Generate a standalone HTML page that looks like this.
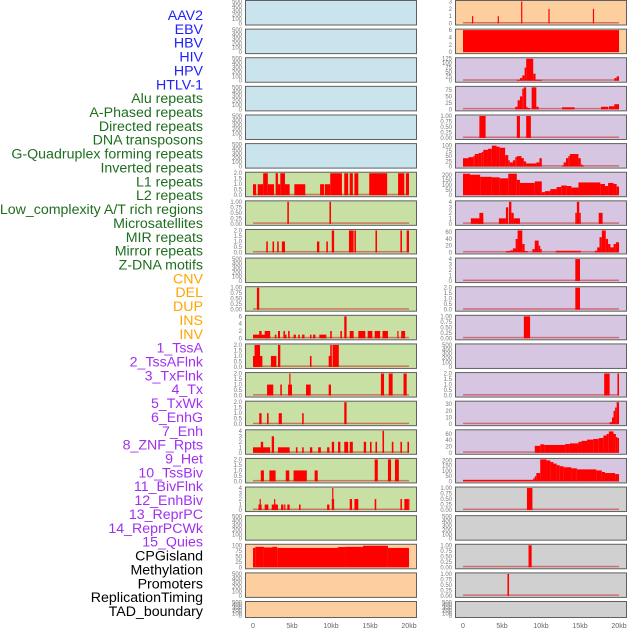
<!DOCTYPE html>
<html><head><meta charset="utf-8"><style>
body{margin:0;background:#fff;}
svg{display:block;font-family:"Liberation Sans",sans-serif;}
</style></head><body>
<svg id="chart" width="630" height="630" viewBox="0 0 630 630"></svg>
<script>
const labelNames=["AAV2","EBV","HBV","HIV","HPV","HTLV-1","Alu repeats","A-Phased repeats","Directed repeats","DNA transposons","G-Quadruplex forming repeats","Inverted repeats","L1 repeats","L2 repeats","Low_complexity A/T rich regions","Microsatellites","MIR repeats","Mirror repeats","Z-DNA motifs","CNV","DEL","DUP","INS","INV","1_TssA","2_TssAFlnk","3_TxFlnk","4_Tx","5_TxWk","6_EnhG","7_Enh","8_ZNF_Rpts","9_Het","10_TssBiv","11_BivFlnk","12_EnhBiv","13_ReprPC","14_ReprPCWk","15_Quies","CPGisland","Methylation","Promoters","ReplicationTiming","TAD_boundary"];
const labelColors=["#2020ff","#2020ff","#2020ff","#2020ff","#2020ff","#2020ff","#1f6e1f","#1f6e1f","#1f6e1f","#1f6e1f","#1f6e1f","#1f6e1f","#1f6e1f","#1f6e1f","#1f6e1f","#1f6e1f","#1f6e1f","#1f6e1f","#1f6e1f","#ffa500","#ffa500","#ffa500","#ffa500","#ffa500","#a030f0","#a030f0","#a030f0","#a030f0","#a030f0","#a030f0","#a030f0","#a030f0","#a030f0","#a030f0","#a030f0","#a030f0","#a030f0","#a030f0","#a030f0","#000","#000","#000","#000","#000"];
const xTicks=[0,5,10,15,20];
const xTickLabels=["0","5kb","10kb","15kb","20kb"];
const leftBg=["b","b","b","b","b","b","g","g","g","g","g","g","g","g","g","g","g","g","g","o","o","o"];
const rightBg=["o","o","p","p","p","p","p","p","p","p","p","p","p","p","p","p","p","y","y","y","y","y"];
const leftMax=[500,500,500,500,500,500,2,1,2,500,1,6,2,2,2,4,2,4,500,100,500,500];
const rightMax=[3,6,125,85,1,105,215,4,65,4,2,1,500,2,33,70,210,1,500,1,1,500];
const leftTicks=[[0,100,200,300,400,500],[0,100,200,300,400,500],[0,100,200,300,400,500],[0,100,200,300,400,500],[0,100,200,300,400,500],[0,100,200,300,400,500],[0,0.5,1,1.5,2],[0,0.25,0.5,0.75,1],[0,0.5,1,1.5,2],[0,100,200,300,400,500],[0,0.25,0.5,0.75,1],[0,2,4,6],[0,0.5,1,1.5,2],[0,0.5,1,1.5,2],[0,0.5,1,1.5,2],[0,1,2,3,4],[0,0.5,1,1.5,2],[0,1,2,3,4],[0,100,200,300,400,500],[0,25,50,75,100],[0,100,200,300,400,500],[0,100,200,300,400,500]];
const rightTicks=[[0,1,2,3],[0,2,4,6],[0,25,50,75,100,125],[0,25,50,75],[0,0.25,0.5,0.75,1],[0,25,50,75,100],[0,50,100,150,200],[0,1,2,3,4],[0,20,40,60],[0,1,2,3,4],[0,0.5,1,1.5,2],[0,0.25,0.5,0.75,1],[0,100,200,300,400,500],[0,0.5,1,1.5,2],[0,10,20,30],[0,20,40,60],[0,50,100,150,200],[0,0.25,0.5,0.75,1],[0,100,200,300,400,500],[0,0.25,0.5,0.75,1],[0,0.25,0.5,0.75,1],[0,100,200,300,400,500]];
const leftBars=[[],[],[],[],[],[],
[[0,0.4,1],[0.6,1.3,1],[1.3,1.9,2],[1.9,2.7,1],[2.9,3.2,2],[3.2,3.5,1],[3.5,4.1,2],[4.1,4.7,1],[5.3,6.7,1],[8.6,9.1,1],[9.2,9.9,1],[9.9,11.4,2],[11.7,12.2,2],[12.4,12.8,2],[13.0,13.5,2],[14.9,17.2,2],[18.6,19.4,2],[19.6,20,2]],
[[4.4,4.6,1],[9.8,10.0,1]],
[[1.7,1.9,1],[2.5,2.7,1],[3.1,3.3,1],[3.7,4.1,1],[8.2,8.5,1],[9.4,9.6,1],[10.1,10.4,2],[12.3,12.9,2],[13.0,13.2,2],[15.7,15.9,2],[18.9,19.1,2],[19.7,20,2]],
[],
[[0.5,0.8,1]],
[[0,2.2,1],[0.8,1.1,2],[1.5,2.2,2],[2.8,3.0,1],[3.2,3.46,2],[3.9,4.1,2],[4.1,4.3,1],[4.5,4.7,2],[5.2,5.5,1],[5.8,6.0,1],[6.3,6.6,1],[7.3,7.5,1],[7.7,8.0,1],[8.5,9.4,1],[9.9,10.1,2],[11.2,11.4,2],[11.7,12.0,6],[12.4,12.9,2],[13.5,14.4,2],[14.7,15.3,2],[15.6,16.3,2],[16.6,17.3,2],[18.5,18.6,2],[19.0,19.5,2]],
[[0,1.2,1],[0.2,0.9,2],[2.3,3.0,1],[3.2,3.5,2],[7.3,7.5,1],[9.7,10.1,1],[9.9,10.1,2],[10.2,11.0,2]],
[[1.8,2.6,1],[3.5,3.7,1],[4.5,5.0,1],[4.65,4.8,2],[6.8,7.4,1],[9.7,10.0,1],[16.4,16.8,2],[17.4,17.9,2],[19.3,19.7,2]],
[[0.8,1.1,1],[1.8,2.0,1],[3.3,3.7,1],[6.3,6.5,1],[11.7,12.0,2]],
[[0,2.2,1],[1.0,1.3,2],[2.4,2.7,3],[3.2,4.7,1],[5.5,5.7,1],[6.3,6.5,1],[7.3,7.6,1],[8.35,8.7,1],[9.5,9.8,1],[10.1,10.4,2],[10.9,11.2,2],[11.7,12.2,2],[12.4,12.8,2],[14.2,14.5,2],[15.0,15.2,2],[15.7,15.9,2],[16.6,16.8,4],[17.8,18.0,2],[18.9,19.1,2],[19.8,20,2]],
[[1.0,1.4,1],[2.1,2.9,1],[4.2,4.65,1],[5.2,6.9,1],[7.9,8.3,1],[15.6,16.0,2],[17.3,17.7,2],[18.2,18.7,2]],
[[0.7,1.1,1],[0.85,0.95,2],[1.5,1.97,1],[2.4,3.2,1],[2.7,2.85,2],[3.6,3.9,1],[4.0,4.1,1],[4.4,4.7,1],[5.9,6.1,1],[9.5,9.8,1],[10.1,10.4,2],[10.15,10.3,4],[12.4,12.7,2],[13.0,13.5,2],[15.6,15.8,2],[18.9,19.1,2],[19.4,19.9,2],[19.9,20,2]],
[],
[[0,0.3,88],[0.3,1.4,93],[1.4,2.5,90],[2.5,3.1,93],[3.1,10.9,88],[10.9,11.8,92],[11.8,14.1,93],[14.1,17.3,98],[17.3,20,88]],
[],[]];
const rightBars=[
[[1.15,1.3,1],[4.45,4.6,1],[7.45,7.6,3],[10.95,11.1,2],[16.65,16.8,2]],
[[0,20,6]],
[[6.9,7.3,5],[7.3,7.6,15],[7.6,7.9,30],[7.9,8.1,75],[8.1,9.0,125],[9.0,9.3,40],[9.3,10.1,5],[19.4,19.7,15],[19.7,20,25]],
[[6.7,7.0,10],[7.0,7.3,35],[7.3,7.6,50],[7.6,7.8,80],[7.8,8.1,85],[8.1,8.2,10],[8.2,8.6,5],[8.8,9.4,85],[9.4,9.7,10],[12.7,14.3,8],[17.7,18.6,10],[18.7,19.4,12],[19.4,20,20]],
[[2.1,2.9,1],[6.9,7.3,1],[8.1,8.7,1]],
[[0,0.7,40],[0.7,1.3,45],[1.3,1.5,50],[1.5,2.0,60],[2.0,2.4,65],[2.4,2.6,70],[2.6,3.2,80],[3.2,3.7,85],[3.7,4.3,100],[4.3,4.7,95],[4.7,5.4,90],[5.4,5.8,55],[5.8,6.0,30],[6.0,6.4,20],[6.4,6.7,30],[6.7,6.9,45],[6.9,7.5,50],[7.5,7.8,40],[7.8,8.1,25],[8.1,9.4,15],[9.4,9.8,20],[9.8,10.1,40],[12.7,12.9,5],[12.9,13.2,20],[13.2,13.5,40],[13.5,13.7,50],[13.7,14.8,60],[14.8,15.1,40],[15.1,15.3,10],[15.3,15.5,5]],
[[0,0.9,210],[0.9,2.2,200],[2.2,3.7,180],[3.7,4.7,175],[4.7,5.8,165],[5.8,6.9,210],[6.9,7.3,150],[7.3,9.2,120],[9.2,10.1,135],[10.1,10.5,30],[10.5,11.2,40],[11.2,12.0,60],[12.0,12.6,80],[12.6,13.3,95],[13.3,13.9,90],[13.9,14.8,75],[14.8,17.6,125],[17.6,18.2,110],[18.2,18.6,90],[18.6,19.3,120],[19.3,19.7,110],[19.7,20,85]],
[[1.0,2.6,1],[2.1,2.6,2],[4.6,5.5,1],[5.5,5.8,3],[5.9,6.2,4],[6.2,6.5,2],[6.5,7.3,1],[14.4,14.6,2],[14.6,14.9,4],[14.9,15.1,2],[17.4,17.9,2]],
[[5.5,6.0,4],[6.0,6.4,6],[6.4,6.75,12],[6.75,7.0,40],[7.0,7.6,65],[7.6,7.9,25],[7.9,8.3,4],[8.9,9.2,10],[9.2,9.7,35],[9.7,9.9,20],[9.9,10.1,10],[11.9,15.1,5],[16.9,17.2,5],[17.2,17.5,15],[17.5,17.8,45],[17.8,18.3,65],[18.3,18.6,40],[18.6,18.9,25],[18.9,19.3,15],[19.3,19.6,25],[19.6,20,30]],
[[14.4,15.0,4]],
[[14.4,15.0,2]],
[[7.8,8.6,1]],
[],
[[18.1,18.8,2],[19.8,20,2]],
[[18.8,19.1,3],[19.1,19.3,10],[19.3,19.5,20],[19.5,19.7,25],[19.7,20,33]],
[[9.2,9.9,22],[9.9,10.4,27],[10.4,13.1,25],[13.1,13.7,28],[13.7,14.8,30],[14.8,15.2,35],[15.2,15.9,38],[15.9,16.7,42],[16.7,17.4,44],[17.4,18.0,47],[18.0,18.4,55],[18.4,18.7,60],[18.7,19.3,68],[19.3,19.6,60],[19.6,19.8,50],[19.8,20,47]],
[[0,9.0,15],[9.0,9.2,30],[9.2,9.4,50],[9.4,9.9,80],[9.9,10.7,210],[10.7,11.2,200],[11.2,11.6,185],[11.6,12.0,170],[12.0,12.4,155],[12.4,12.9,145],[12.9,13.9,135],[13.9,14.6,125],[14.6,17.1,115],[17.1,17.8,105],[17.8,18.2,90],[18.2,19.5,80],[19.5,20,70]],
[[8.2,8.9,1]],
[],
[[8.4,8.8,1]],
[[5.7,5.9,1]],
[]];

const NS="http://www.w3.org/2000/svg";
const svg=document.getElementById('chart');
function mk(tag,attrs,parent){const e=document.createElementNS(NS,tag);for(const k in attrs)e.setAttribute(k,attrs[k]);(parent||svg).appendChild(e);return e;}
const bgColors={b:"#c9e4ec",g:"#c8e0a4",o:"#fdcf9e",p:"#d6c6e2",y:"#d0d0d0"};
const rowPitch=28.62;
function rowTop(i){return i*rowPitch+0.5;}
function rowH(i){return i===21?16:24.5;}

labelNames.forEach((n,i)=>{
  const t=mk('text',{x:203,y:15+i*13.86+5,'text-anchor':'end','font-size':'14.2',fill:labelColors[i]});
  t.textContent=n;
  
  
});

function drawColumn(side){
  const frameX= side==='L'?245:455, frameW=171;
  const x0= side==='L'?253:463;
  const xs=kb=>x0+kb*7.8;
  const bgs= side==='L'?leftBg:rightBg, maxes= side==='L'?leftMax:rightMax;
  const ticks= side==='L'?leftTicks:rightTicks, bars= side==='L'?leftBars:rightBars;
  for(let i=0;i<22;i++){
    const top=rowTop(i), h=rowH(i);
    const g=mk('g',{});
    
    
    const r=mk('rect',{x:frameX+0.5,y:top,width:frameW,height:h,fill:bgColors[bgs[i]],stroke:'#606060','stroke-width':1},g);
    
    
    const yb=top+h-1.5, yt=top+1;
    const ys=v=>yb-(v/maxes[i])*(yb-yt);
    const quarter=ticks[i].some(v=>(v*100)%50!==0);
    const half=ticks[i].some(v=>v%1!==0);
    ticks[i].forEach(tv=>{
      const t=mk('text',{x:frameX-3,y:ys(tv)+2,'text-anchor':'end','font-size':'6',fill:'#777'},g);
      t.textContent= quarter? tv.toFixed(2) : (half? tv.toFixed(1) : String(tv));
      
      
    });
    if(bars[i].length){
      const bl=mk('rect',{x:xs(0),y:yb-1.5,width:xs(20)-xs(0),height:1.5,fill:'#c83030',opacity:0.6},g);
      
      
    }
    bars[i].forEach(b=>{
      const w=Math.max(xs(b[1])-xs(b[0]),1.2);
      const y=ys(b[2]);
      const br=mk('rect',{x:xs(b[0]),y:y,width:w,height:yb-y,fill:'#ff0000'},g);
      
      
    });
  }
  xTicks.forEach((k,j)=>{
    const t=mk('text',{x:xs(k),y:628,'text-anchor':'middle','font-size':'7',fill:'#666'});
    t.textContent=xTickLabels[j];
    
    
  });
}
drawColumn('L');drawColumn('R');
</script>
</body></html>
